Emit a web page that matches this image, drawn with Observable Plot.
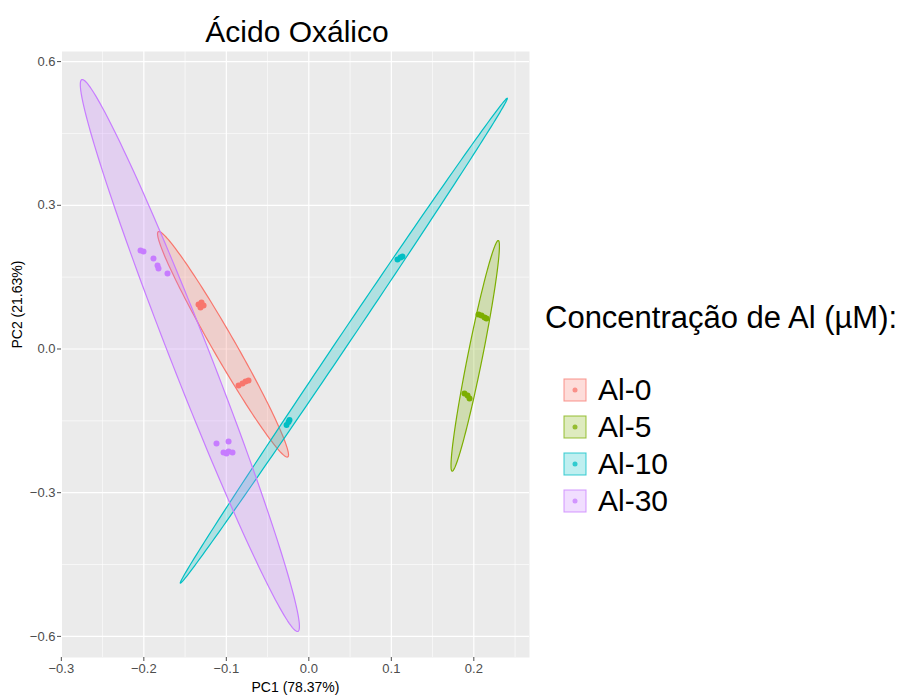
<!DOCTYPE html>
<html>
<head>
<meta charset="utf-8">
<script src="https://cdn.jsdelivr.net/npm/d3@7"></script>
<script src="https://cdn.jsdelivr.net/npm/@observablehq/plot@0.6"></script>
<style>
  html, body { margin: 0; padding: 0; background: white; }
  body { width: 903px; height: 695px; position: relative; overflow: hidden;
         font-family: "Liberation Sans", Arial, sans-serif; }
  #title { position: absolute; left: 197px; width: 200px; top: 14px; text-align: center;
           font-size: 30px; line-height: 36px; color: #000; white-space: nowrap; }
  #chart { position: absolute; left: 0; top: 46px; }
  #legend { position: absolute; left: 545px; top: 300px; color: #000; }
  #legend .ltitle { font-size: 31px; line-height: 36px; white-space: nowrap; }
  #legend .item { position: absolute; left: 18px; height: 24px; white-space: nowrap; }
  #legend .item svg { position: absolute; left: 0; top: 0; }
  #legend .item span { position: absolute; left: 35px; top: -6px; font-size: 30px; line-height: 36px; }
</style>
</head>
<body>
<div id="title">Ácido Oxálico</div>
<div id="chart"></div>
<div id="legend"></div>
<script>
// ---- data ----
const groups = ["Al-0", "Al-5", "Al-10", "Al-30"];
const colors = ["#F8766D", "#7CAE00", "#00BFC4", "#C77CFF"];

// PCA scores
const pc1_Al0  = [-0.1337, -0.1301, -0.1313, -0.1276, -0.0852, -0.0804, -0.0767, -0.0731];
const pc2_Al0  = [ 0.0929,  0.0971,  0.0866,  0.0908, -0.0762, -0.0720, -0.0678, -0.0658];
const pc1_Al5  = [0.2057, 0.2093, 0.2130, 0.2154, 0.1887, 0.1924, 0.1948];
const pc2_Al5  = [0.0720, 0.0699, 0.0658, 0.0637, -0.0929, -0.0971, -0.1033];
const pc1_Al10 = [0.1075, 0.1111, 0.1135, -0.0270, -0.0246, -0.0234];
const pc2_Al10 = [0.1868, 0.1910, 0.1931, -0.1587, -0.1524, -0.1482];
const pc1_Al30 = [-0.2040, -0.2004, -0.1883, -0.1834, -0.1822, -0.1713, -0.1119, -0.0973, -0.1034, -0.0973, -0.0925, -0.0998];
const pc2_Al30 = [ 0.2056,  0.2035,  0.1889,  0.1743,  0.1681,  0.1576, -0.1973, -0.1931, -0.2161, -0.2140, -0.2161, -0.2182];

// 95% ellipses: centre, topmost point, horizontal half-width at the centre (data units)
const ellCx    = [-0.1040, 0.2017, 0.0424, -0.1442];
const ellCy    = [ 0.0098, -0.0143, 0.0173, -0.0136];
const ellTopX  = [-0.1818, 0.2296, 0.2405, -0.2746];
const ellTopY  = [ 0.2453, 0.2265, 0.5236, 0.5626];
const ellHalfW = [ 0.0158, 0.0091, 0.0081, 0.0252];

const xTicks = [-0.3, -0.2, -0.1, 0.0, 0.1, 0.2];
const xMinor = [-0.25, -0.15, -0.05, 0.05, 0.15, 0.25];
const yTicks = [-0.6, -0.3, 0.0, 0.3, 0.6];
const yMinor = [-0.45, -0.15, 0.15, 0.45];

const xLabel = "PC1 (78.37%)";
const yLabel = "PC2 (21.63%)";
const legendTitle = "Concentração de Al (µM):";

// ---- tables ----
const pcs = [[pc1_Al0, pc2_Al0], [pc1_Al5, pc2_Al5], [pc1_Al10, pc2_Al10], [pc1_Al30, pc2_Al30]];
const points = [];
groups.forEach((g, i) => {
  const [xs, ys] = pcs[i];
  xs.forEach((x, j) => points.push({group: g, x, y: ys[j]}));
});

// ellipse outline from conjugate semi-diameters (top point vector, horizontal half-chord)
const ellipse = [];
groups.forEach((g, i) => {
  const ax = ellTopX[i] - ellCx[i], ay = ellTopY[i] - ellCy[i];
  const n = 180;
  for (let k = 0; k < n; k++) {
    const t = 2 * Math.PI * k / n;
    ellipse.push({group: g, x: ellCx[i] + ax * Math.cos(t) + ellHalfW[i] * Math.sin(t),
                  y: ellCy[i] + ay * Math.cos(t)});
  }
});

const chart = Plot.plot({
  width: 540,
  height: 649,
  marginLeft: 61,
  marginRight: 11,
  marginTop: 5,
  marginBottom: 38,
  style: {fontFamily: "'Liberation Sans', Arial, sans-serif", background: "white"},
  x: {domain: [-0.2998, 0.2675]},
  y: {domain: [-0.6441, 0.6211]},
  color: {domain: groups, range: colors},
  marks: [
    Plot.frame({fill: "#EBEBEB", stroke: null}),
    Plot.ruleX(xMinor, {stroke: "white", strokeWidth: 0.6}),
    Plot.ruleY(yMinor, {stroke: "white", strokeWidth: 0.6}),
    Plot.ruleX(xTicks, {stroke: "white", strokeWidth: 1.2}),
    Plot.ruleY(yTicks, {stroke: "white", strokeWidth: 1.2}),
    Plot.line(ellipse, {x: "x", y: "y", z: "group", fill: "group", stroke: "group",
                        fillOpacity: 0.25, strokeWidth: 1.2, curve: "linear-closed"}),
    Plot.dot(points, {x: "x", y: "y", fill: "group", r: 3}),
    Plot.axisX(xTicks, {tickFormat: d3.format(".1f"), tickSize: 4, tickPadding: 2,
                        fontSize: 13, color: "#4D4D4D", label: null}),
    Plot.axisY(yTicks, {tickFormat: d3.format(".1f"), tickSize: 4, tickPadding: 2,
                        fontSize: 13, color: "#4D4D4D", label: null}),
    Plot.text([xLabel], {text: d => d, frameAnchor: "bottom", dy: 30, fontSize: 14,
                         fill: "#000", lineAnchor: "middle"}),
    Plot.text([yLabel], {text: d => d, frameAnchor: "left", dx: -44, dy: -6, rotate: -90,
                         fontSize: 14, fill: "#000", lineAnchor: "middle"})
  ]
});
document.getElementById("chart").appendChild(chart);

// ---- legend built from the plot's colour scale ----
const colorScale = chart.scale("color");
const legend = document.getElementById("legend");
const lt = document.createElement("div");
lt.className = "ltitle";
lt.textContent = legendTitle;
legend.appendChild(lt);
groups.forEach((g, i) => {
  const c = colorScale.apply(g);
  const item = document.createElement("div");
  item.className = "item";
  item.style.top = (78 + i * 37) + "px";
  item.innerHTML = `<svg width="24" height="24"><rect x="1" y="1" width="22" height="22" fill="${c}" fill-opacity="0.25" stroke="${c}" stroke-opacity="0.7" stroke-width="1.1"></rect><circle cx="12" cy="12" r="2.5" fill="${c}" fill-opacity="0.75"></circle></svg><span>${g}</span>`;
  legend.appendChild(item);
});
</script>
</body>
</html>
